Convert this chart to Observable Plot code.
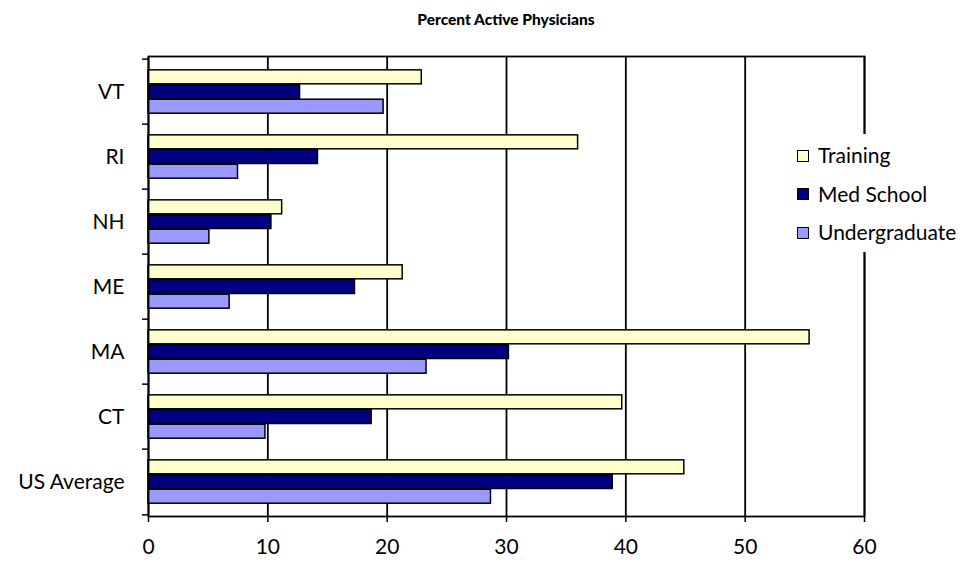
<!DOCTYPE html>
<html><head><meta charset="utf-8">
<script src="https://cdn.jsdelivr.net/npm/d3@7"></script>
<script src="https://cdn.jsdelivr.net/npm/@observablehq/plot@0.6"></script>
<style>
body{margin:0;background:#fff;}
#wrap{position:relative;width:978px;height:569px;font-family:Lato, sans-serif;color:#000;}
#title{position:absolute;left:0;width:1012px;top:10px;text-align:center;font-weight:900;font-size:15.5px;}
#legend{position:absolute;left:782px;top:134px;width:196px;height:118px;background:#fff;}
.item{position:absolute;left:15px;height:26px;line-height:26px;font-size:21px;white-space:nowrap;}
.sw{display:inline-block;width:10px;height:10px;border:1.5px solid #000;margin-right:9px;vertical-align:middle;position:relative;top:-2px;}
</style></head><body>
<div id="wrap"><div id="chart"></div><div id="title">Percent Active Physicians</div><div id="legend"></div></div>
<script>
const states = ["VT","RI","NH","ME","MA","CT","US Average"];
const series = ["Training","Med School","Undergraduate"];
const training = [22.9,36.0,11.2,21.3,55.4,39.7,44.9];
const medSchool = [12.7,14.2,10.3,17.3,30.2,18.7,38.9];
const undergraduate = [19.7,7.5,5.1,6.8,23.3,9.8,28.7];
const colors = ["#FFFFCC","#000080","#9999FF"];
const xTicks = [0,10,20,30,40,50,60];

const valuesBySeries = [training, medSchool, undergraduate];
const rows = series.flatMap((s,i)=> states.map((st,j)=>({state:st, series:s, value:valuesBySeries[i][j]})));

const W=978, H=569, mt=56, mb=53, ml=148, mr=114;
const bw = (H-mt-mb)/states.length;
const barH = bw*0.2235, off = bw*0.165;

const barMarks = series.map((s,i)=> Plot.barX(rows.filter(d=>d.series===s), {
  x:"value", y:"state", fill: colors[i], stroke:"#000", strokeWidth:1.5,
  insetTop: off + i*barH, insetBottom: bw - off - (i+1)*barH
}));

const chart = Plot.plot({
  width:W, height:H, marginTop:mt, marginBottom:mb, marginLeft:ml, marginRight:mr,
  style:{fontFamily:"Lato, sans-serif", fontSize:"21px", color:"#000", background:"#fff"},
  x:{domain:[0,60], label:null},
  y:{domain:states, padding:0, label:null},
  marks:[
    Plot.gridX(xTicks, {stroke:"#000", strokeOpacity:1, strokeWidth:1.8}),
    ...barMarks,
    Plot.frame({stroke:"#000", strokeWidth:1.8}),
    Plot.ruleY(states, {y:d=>d, x1:-0.5, x2:0, dy:-bw/2, stroke:"#000", strokeWidth:1.5}),
    Plot.ruleY([states[states.length-1]], {y:d=>d, x1:-0.5, x2:0, dy:bw/2, stroke:"#000", strokeWidth:1.5}),
    Plot.axisX(xTicks, {tickSize:6, tickPadding:17, fontSize:21, strokeWidth:1.5, label:null}),
    Plot.axisY({tickSize:0, tickPadding:24, fontSize:21, label:null})
  ]
});
document.getElementById("chart").appendChild(chart);

const leg = document.getElementById("legend");
series.forEach((s,i)=>{
  const it = document.createElement("div");
  it.className="item";
  it.style.top = (8 + i*38.5) + "px";
  const sw = document.createElement("span");
  sw.className="sw"; sw.style.background = colors[i];
  it.appendChild(sw);
  it.appendChild(document.createTextNode(s));
  leg.appendChild(it);
});
</script>
</body></html>
